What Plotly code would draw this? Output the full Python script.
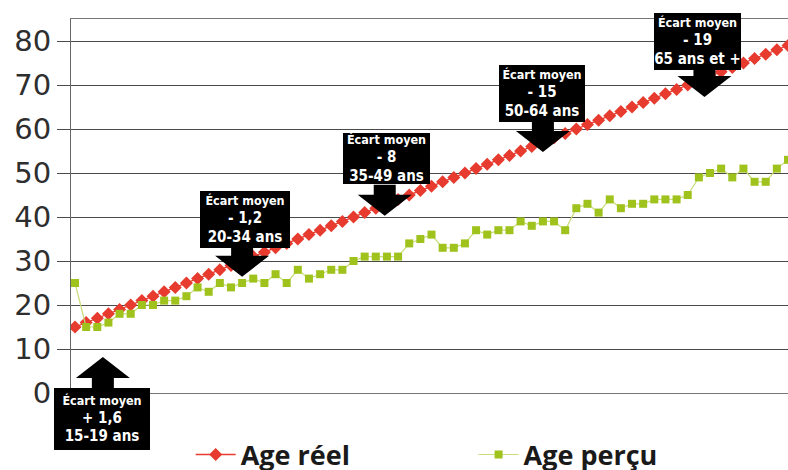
import plotly.graph_objects as go

# Real age (x categories) and the two series
ages = [15, 16, 17, 18, 19, 20, 21, 22, 23, 24, 25, 26, 27, 28, 29, 30,
        31, 32, 33, 34, 35, 36, 37, 38, 39, 40, 41, 42, 43, 44, 45, 46,
        47, 48, 49, 50, 51, 52, 53, 54, 55, 56, 57, 58, 59, 60, 61, 62,
        63, 64, 65, 66, 67, 68, 69, 70, 71, 72, 73, 74, 75, 76, 77, 78, 79]
age_reel = [15, 16, 17, 18, 19, 20, 21, 22, 23, 24, 25, 26, 27, 28, 29, 30,
            31, 32, 33, 34, 35, 36, 37, 38, 39, 40, 41, 42, 43, 44, 45, 46,
            47, 48, 49, 50, 51, 52, 53, 54, 55, 56, 57, 58, 59, 60, 61, 62,
            63, 64, 65, 66, 67, 68, 69, 70, 71, 72, 73, 74, 75, 76, 77, 78, 79]
age_percu = [25, 15, 15, 16, 18, 18, 20, 20, 21, 21, 22, 24, 23, 25, 24, 25,
             26, 25, 27, 25, 28, 26, 27, 28, 28, 30, 31, 31, 31, 31, 34, 35,
             36, 33, 33, 34, 37, 36, 37, 37, 39, 38, 39, 39, 37, 42, 43, 41,
             44, 42, 43, 43, 44, 44, 44, 45, 49, 50, 51, 49, 51, 48, 48, 51, 53]

y_ticks = [0, 10, 20, 30, 40, 50, 60, 70, 80]

# Callouts: text, arrow tip (age, value), arrow direction, box size, box offset from tip
callout_text = [
    "Écart moyen<br>+ 1,6<br>15-19 ans",
    "Écart moyen<br>- 1,2<br>20-34 ans",
    "Écart moyen<br>- 8<br>35-49 ans",
    "Écart moyen<br>- 15<br>50-64 ans",
    "Écart moyen<br>- 19<br>65 ans et +",
]
callout_tip_age = [17.5, 30.0, 42.8, 57.0, 71.5]
callout_tip_val = [8.2, 26.4, 40.3, 54.8, 67.3]
callout_up = [True, False, False, False, False]
callout_box_w = [96, 90, 87, 86, 87]
callout_box_h = [62, 57, 51, 57, 57]
callout_box_dx = [-1, 3, 1.5, -1, -6.5]
callout_box_dy = [-62, 57, 57.5, 58.5, 55.5]

RED = "#e63b2e"
GREEN = "#9fc31c"
GREEN_LINE = "#c8dc78"
GRID = "#4a4a4a"

fig = go.Figure()
fig.add_trace(go.Scatter(
    x=ages, y=age_reel, name="Age réel", mode="lines+markers",
    line=dict(color=RED, width=1.3),
    marker=dict(symbol="diamond", size=10, color=RED),
    legend="legend", showlegend=True,
))
fig.add_trace(go.Scatter(
    x=ages, y=age_percu, name="Age perçu", mode="lines+markers",
    line=dict(color=GREEN_LINE, width=1.2),
    marker=dict(symbol="square", size=8, color=GREEN),
    legend="legend2", showlegend=True,
))

shapes = []
annotations = []
for txt, ta, tv, up, w, h, dx, dy in zip(callout_text, callout_tip_age, callout_tip_val,
                                         callout_up, callout_box_w, callout_box_h,
                                         callout_box_dx, callout_box_dy):
    s = -1 if up else 1
    path = (f"M0,0 L-27,{21*s} L-11,{21*s} L-11,{31*s} "
            f"L11,{31*s} L11,{21*s} L27,{21*s} Z")
    shapes.append(dict(
        type="path", path=path, xref="x", yref="y",
        xsizemode="pixel", ysizemode="pixel",
        xanchor=ta, yanchor=tv,
        fillcolor="black", line=dict(width=0), layer="above",
    ))
    lines = txt.split("<br>")
    styled = (f"<span style='font-size:12.5px'>{lines[0]}</span><br>"
              f"<span style='font-size:15px'>{lines[1]}</span><br>"
              f"<span style='font-size:15px'>{lines[2]}</span>")
    annotations.append(dict(
        x=ta, y=tv, xref="x", yref="y", text=f"<b>{styled}</b>",
        showarrow=False, xanchor="center", yanchor="middle",
        xshift=dx, yshift=dy, width=w, height=h,
        bgcolor="black", borderpad=0, borderwidth=0,
        align="center", valign="middle",
        font=dict(family="Liberation Sans Narrow, DejaVu Sans Condensed, Arial Narrow, sans-serif",
                  size=14, color="white"),
    ))

legend_font = dict(family="Open Sans, Noto Sans, sans-serif", size=27, color="#1a1a1a",
                   weight="bold")

fig.update_layout(
    width=788, height=470,
    margin=dict(l=71, r=0, t=19, b=77, autoexpand=False),
    paper_bgcolor="white", plot_bgcolor="white",
    showlegend=True,
    xaxis=dict(
        range=[14.64, 79.0], showgrid=False, zeroline=False,
        showticklabels=False, ticks="",
        showline=True, mirror=True, linecolor="#777", linewidth=1,
    ),
    yaxis=dict(
        range=[0, 85], tickvals=y_ticks, showgrid=True, gridcolor=GRID, gridwidth=1.3,
        zeroline=True, zerolinecolor=GRID, zerolinewidth=1.3,
        showline=True, linecolor="#666", linewidth=1,
        ticks="outside", ticklen=13, tickcolor=GRID, tickwidth=1.3,
        tickfont=dict(family="DejaVu Sans, sans-serif", size=29, color="#2e2e2e"),
    ),
    legend=dict(orientation="h", xref="container", yref="container",
                x=0.242, xanchor="left", y=0.032, yanchor="middle",
                font=legend_font, itemwidth=40, bgcolor="rgba(0,0,0,0)"),
    legend2=dict(orientation="h", xref="container", yref="container",
                 x=0.601, xanchor="left", y=0.032, yanchor="middle",
                 font=legend_font, itemwidth=40, bgcolor="rgba(0,0,0,0)"),
    shapes=shapes,
    annotations=annotations,
)

fig.write_html("out.html")
